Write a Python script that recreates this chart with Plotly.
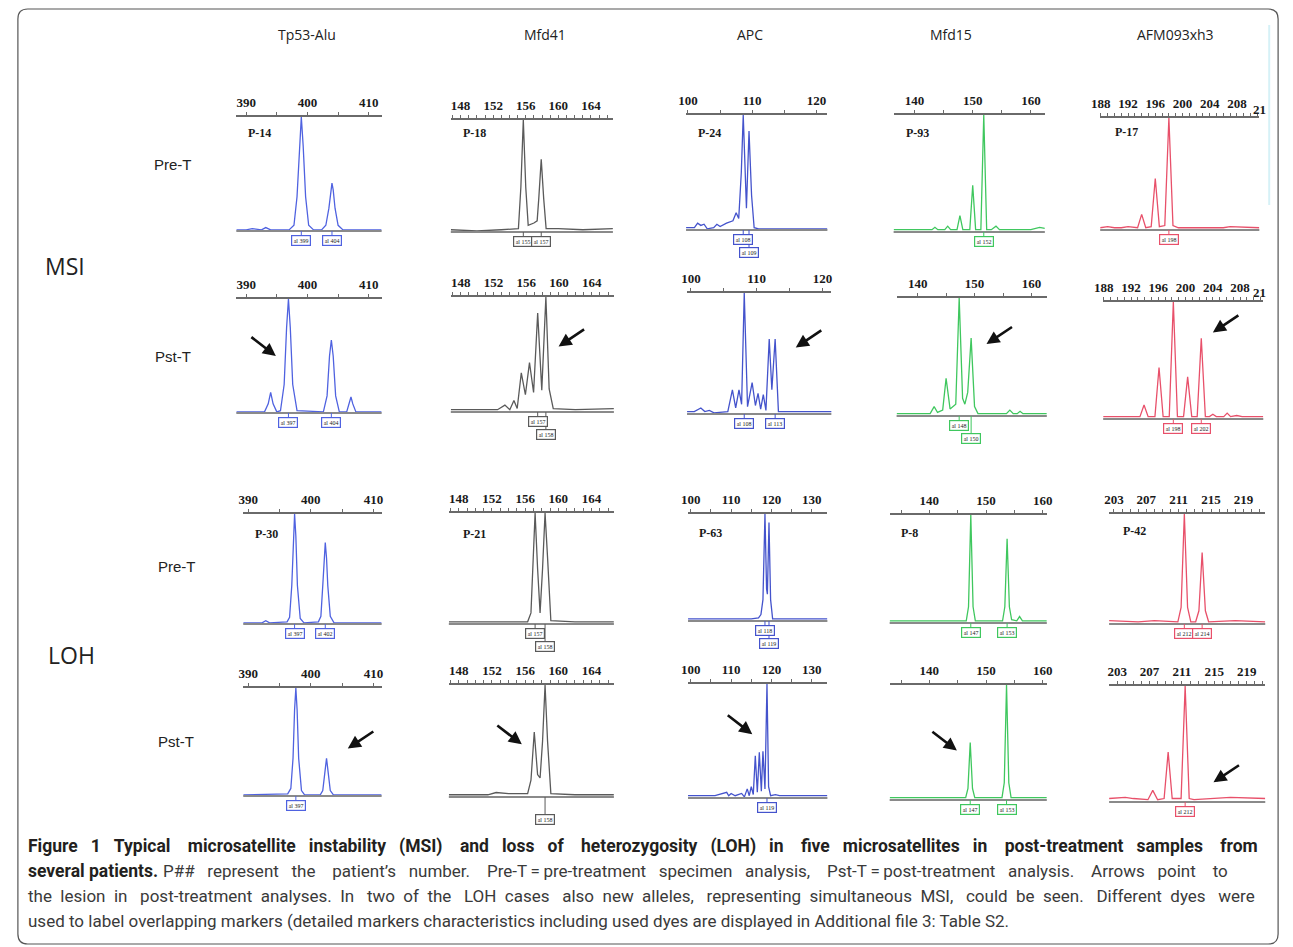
import plotly.graph_objects as go

W, H = 1293, 947

# ---------------- text content ----------------
columns = ["Tp53-Alu", "Mfd41", "APC", "Mfd15", "AFM093xh3"]
row_labels = ["Pre-T", "Pst-T", "Pre-T", "Pst-T"]
group_labels = ["MSI", "LOH"]
patients_msi = ["P-14", "P-18", "P-24", "P-93", "P-17"]
patients_loh = ["P-30", "P-21", "P-63", "P-8", "P-42"]

caption_bold_1 = ("Figure 1 Typical microsatellite instability (MSI) and loss of heterozygosity (LOH) "
                  "in five microsatellites in post-treatment samples from")
caption_bold_2 = "several patients."
caption_rest_2 = ("P## represent the patient\u2019s number. Pre-T\u2009=\u2009pre-treatment specimen analysis, "
                  "Pst-T\u2009=\u2009post-treatment analysis. Arrows point to")
caption_3 = ("the lesion in post-treatment analyses. In two of the LOH cases also new alleles, "
             "representing simultaneous MSI, could be seen. Different dyes were")
caption_4 = ("used to label overlapping markers (detailed markers characteristics including used dyes "
             "are displayed in Additional file 3: Table S2.")

# ---------------- tick values / labels (fragment size, bp) ----------------
tp53_ticks = [390, 395, 400, 405, 410]
tp53_ticktext = ["390", "", "400", "", "410"]
mfd41_ticks = list(range(147, 167))
mfd41_ticktext = [str(v) if v in (148, 152, 156, 160, 164) else "" for v in mfd41_ticks]
apc_msi_ticks = [100, 105, 110, 115, 120]
apc_msi_ticktext = ["100", "", "110", "", "120"]
apc_loh_ticks = [100, 105, 110, 115, 120, 125, 130]
apc_loh_ticktext = ["100", "", "110", "", "120", "", "130"]
mfd15_msi_ticks = [140, 145, 150, 155, 160]
mfd15_msi_ticktext = ["140", "", "150", "", "160"]
mfd15_loh_ticks = [135, 140, 145, 150, 155, 160]
mfd15_loh_ticktext = ["", "140", "", "150", "", "160"]
afm_msi_ticks = list(range(188, 212))
afm_msi_ticktext = [str(v) if v in (188, 192, 196, 200, 204, 208) else "" for v in afm_msi_ticks]
afm_loh_ticks = list(range(203, 222))
afm_loh_ticktext = [str(v) if v in (203, 207, 211, 215, 219) else "" for v in afm_loh_ticks]

# ---------------- electropherogram traces (size bp, relative height) ----------------
# Row 1: MSI pre-treatment
tp53_msi_pre_x = [388.4, 390, 391, 392.5, 393.2, 394, 397.0, 397.8, 398.3, 398.7, 399, 399.3, 399.7, 400.2,
                  401.0, 402.3, 403.0, 403.5, 403.8, 404, 404.2, 404.5, 405.0, 405.8, 412.1]
tp53_msi_pre_y = [0.01, 0.01, 0.02, 0.01, 0.03, 0.01, 0.01, 0.05, 0.3, 0.75, 1.0, 0.75, 0.3, 0.05,
                  0.01, 0.01, 0.05, 0.2, 0.36, 0.42, 0.36, 0.2, 0.05, 0.01, 0.01]
mfd41_msi_pre_x = [146.8, 150, 153, 155.1, 155.4, 155.7, 156.0, 156.3, 157.0, 157.4, 157.6, 157.9, 158.2,
                   158.5, 160, 163, 166.7]
mfd41_msi_pre_y = [0.02, 0.01, 0.02, 0.03, 0.4, 1.0, 0.4, 0.06, 0.08, 0.1, 0.3, 0.65, 0.3,
                   0.03, 0.03, 0.02, 0.03]
apc_msi_pre_x = [99.7, 101, 101.5, 102, 102.5, 103, 104, 104.5, 105, 106, 107, 107.5, 107.9, 108.3, 108.6,
                 108.9, 109.1, 109.5, 109.9, 110.3, 111, 121.7]
apc_msi_pre_y = [0.02, 0.02, 0.06, 0.04, 0.05, 0.01, 0.02, 0.05, 0.03, 0.06, 0.08, 0.15, 0.1, 0.5, 1.0,
                 0.4, 0.19, 0.86, 0.3, 0.02, 0.01, 0.01]
mfd15_msi_pre_x = [136.4, 143, 143.5, 144, 145.2, 145.7, 146.2, 147.3, 147.8, 148.3, 149.5, 150.0, 150.5,
                   151.4, 151.9, 152.4, 153.2, 154, 154.6, 160, 161.5, 162.4]
mfd15_msi_pre_y = [0.02, 0.02, 0.04, 0.02, 0.02, 0.05, 0.02, 0.02, 0.14, 0.02, 0.02, 0.4, 0.02,
                   0.02, 1.0, 0.02, 0.02, 0.05, 0.02, 0.02, 0.04, 0.03]
afm_msi_pre_x = [187.9, 189, 190, 191, 192, 193.4, 194.0, 194.6, 195.4, 196.0, 196.6, 197.4, 198.0, 198.6,
                 199.4, 202, 206, 207, 211.3]
afm_msi_pre_y = [0.02, 0.03, 0.02, 0.02, 0.03, 0.02, 0.14, 0.02, 0.03, 0.46, 0.03, 0.04, 1.0, 0.04,
                 0.02, 0.02, 0.02, 0.03, 0.02]

# Row 2: MSI post-treatment
tp53_msi_pst_x = [388.4, 393.0, 393.6, 394, 394.4, 395.0, 395.6, 396.2, 396.6, 396.9, 397.2, 397.6, 398.3,
                  402.6, 403.2, 403.6, 403.9, 404.2, 404.6, 405.2, 406.4, 406.8, 407.1, 407.4, 407.9, 412.1]
tp53_msi_pst_y = [0.01, 0.01, 0.08, 0.18, 0.08, 0.01, 0.02, 0.25, 0.75, 1.0, 0.75, 0.25, 0.02,
                  0.01, 0.15, 0.5, 0.64, 0.5, 0.15, 0.01, 0.01, 0.08, 0.14, 0.08, 0.01, 0.01]
mfd41_msi_pst_x = [146.8, 150, 152.5, 153.4, 154.0, 154.5, 154.9, 155.4, 155.9, 156.4, 156.9, 157.4, 157.9,
                   158.4, 158.8, 159.3, 162, 166.7]
mfd41_msi_pst_y = [0.02, 0.02, 0.02, 0.06, 0.02, 0.1, 0.03, 0.34, 0.15, 0.43, 0.17, 0.86, 0.19,
                   1.0, 0.2, 0.03, 0.02, 0.03]
apc_msi_pst_x = [99.4, 100.5, 101.5, 102.1, 102.8, 103.5, 105.6, 106.3, 106.8, 107.3, 107.7, 108.1, 108.6,
                 109.3, 109.8, 110.2, 110.6, 111.0, 111.4, 111.9, 112.3, 112.8, 113.3, 121.5]
apc_msi_pst_y = [0.02, 0.02, 0.05, 0.02, 0.03, 0.01, 0.02, 0.2, 0.05, 0.2, 0.08, 1.0, 0.06,
                 0.26, 0.07, 0.17, 0.04, 0.16, 0.03, 0.62, 0.2, 0.62, 0.02, 0.02]
mfd15_msi_pst_x = [136.3, 142.2, 142.9, 143.5, 144.4, 145.0, 145.7, 146.7, 147.3, 147.9, 148.3, 148.8, 149.4,
                   150.0, 150.6, 155.6, 156.2, 156.8, 157.5, 158.0, 158.5, 162.7]
mfd15_msi_pst_y = [0.02, 0.02, 0.08, 0.03, 0.05, 0.32, 0.06, 0.1, 1.0, 0.15, 0.1, 0.2, 0.66,
                   0.08, 0.02, 0.02, 0.05, 0.02, 0.02, 0.04, 0.02, 0.02]
afm_msi_pst_x = [187.9, 193.3, 193.9, 194.5, 195.5, 196.1, 196.7, 197.6, 198.2, 198.8, 199.7, 200.3, 200.9,
                 201.7, 202.3, 202.9, 203.5, 204.0, 204.5, 205.6, 206.1, 206.6, 207.5, 208.3, 211.4]
afm_msi_pst_y = [0.02, 0.02, 0.12, 0.02, 0.02, 0.44, 0.02, 0.02, 1.0, 0.02, 0.02, 0.36, 0.02,
                 0.02, 0.69, 0.02, 0.02, 0.04, 0.02, 0.02, 0.05, 0.02, 0.03, 0.02, 0.02]

# Row 3: LOH pre-treatment
tp53_loh_pre_x = [389.2, 392.2, 392.8, 393.4, 396.2, 396.6, 396.95, 397.2, 397.4, 397.6, 397.85, 398.3, 398.9,
                  401.2, 401.6, 401.9, 402.1, 402.3, 402.5, 402.7, 403.1, 403.7, 411.3]
tp53_loh_pre_y = [0.01, 0.01, 0.03, 0.01, 0.02, 0.06, 0.35, 0.8, 1.0, 0.8, 0.35, 0.05, 0.01,
                  0.02, 0.07, 0.35, 0.6, 0.74, 0.6, 0.35, 0.07, 0.01, 0.01]
mfd41_loh_pre_x = [146.8, 150, 153, 156.3, 156.7, 157.0, 157.2, 157.5, 157.8, 158.1, 158.4, 158.7, 159.1,
                   162, 166.7]
mfd41_loh_pre_y = [0.02, 0.02, 0.02, 0.02, 0.1, 0.6, 1.0, 0.5, 0.1, 0.5, 1.0, 0.6, 0.03, 0.02, 0.02]
apc_loh_pre_x = [99.3, 110, 115, 116.8, 117.4, 117.9, 118.4, 118.8, 119.0, 119.4, 119.8, 120.3, 125, 133.9]
apc_loh_pre_y = [0.02, 0.02, 0.02, 0.03, 0.06, 0.2, 1.0, 0.3, 0.25, 0.92, 0.2, 0.02, 0.02, 0.02]
mfd15_loh_pre_x = [133.0, 146.5, 146.9, 147.3, 147.7, 148.1, 152.9, 153.3, 153.7, 154.1, 154.5, 155.4,
                   155.9, 156.4, 160.7]
mfd15_loh_pre_y = [0.02, 0.02, 0.15, 1.0, 0.15, 0.02, 0.02, 0.15, 0.78, 0.15, 0.03, 0.02, 0.06, 0.02, 0.02]
afm_loh_pre_x = [202.4, 206, 208, 210.9, 211.3, 211.7, 212.1, 212.5, 213.1, 213.5, 213.9, 214.3, 214.7,
                 218, 221.7]
afm_loh_pre_y = [0.03, 0.02, 0.03, 0.02, 0.15, 1.0, 0.15, 0.02, 0.02, 0.12, 0.65, 0.12, 0.02, 0.03, 0.02]

# Row 4: LOH post-treatment
tp53_loh_pst_x = [389.2, 396.3, 396.8, 397.15, 397.4, 397.6, 397.8, 398.05, 398.5, 399.0,
                  401.5, 401.9, 402.2, 402.5, 402.8, 403.1, 403.6, 411.3]
tp53_loh_pst_y = [0.01, 0.02, 0.07, 0.35, 0.8, 1.0, 0.8, 0.35, 0.05, 0.01,
                  0.01, 0.05, 0.2, 0.35, 0.2, 0.05, 0.01, 0.01]
mfd41_loh_pst_x = [146.8, 151.5, 152.5, 154, 156.3, 156.7, 157.1, 157.5, 157.8, 158.1, 158.4, 158.7, 159.1,
                   162, 166.7]
mfd41_loh_pst_y = [0.02, 0.02, 0.04, 0.03, 0.03, 0.15, 0.58, 0.2, 0.17, 0.5, 1.0, 0.5, 0.03, 0.02, 0.02]
apc_loh_pst_x = [99.3, 106, 108.9, 109.4, 110.0, 111, 112.6, 113.3, 114.0, 114.5, 115.0, 115.5, 116.0,
                 116.5, 117.0, 117.5, 117.9, 118.4, 118.9, 119.3, 119.8, 121, 122, 133.9]
apc_loh_pst_y = [0.02, 0.02, 0.05, 0.02, 0.04, 0.02, 0.04, 0.01, 0.08, 0.02, 0.1, 0.03, 0.37,
                 0.05, 0.4, 0.06, 0.41, 0.08, 1.0, 0.1, 0.02, 0.03, 0.02, 0.02]
mfd15_loh_pst_x = [133.0, 146.4, 146.8, 147.2, 147.6, 148.0, 152.8, 153.2, 153.6, 154.0, 154.4, 160.7]
mfd15_loh_pst_y = [0.02, 0.02, 0.1, 0.5, 0.1, 0.02, 0.02, 0.15, 1.0, 0.15, 0.02, 0.02]
afm_loh_pst_x = [202.0, 204, 205, 206.8, 207.4, 208.0, 208.8, 209.3, 209.8, 210.9, 211.4, 211.9, 212.5,
                 215, 217, 221.3]
afm_loh_pst_y = [0.03, 0.04, 0.03, 0.02, 0.1, 0.02, 0.03, 0.43, 0.03, 0.03, 1.0, 0.03, 0.02, 0.03, 0.04, 0.03]

# allele call boxes: (text, size, level)
tp53_msi_pre_calls = [("al 399", 399.0, 1), ("al 404", 404.0, 1)]
mfd41_msi_pre_calls = [("al 155", 155.7, 1), ("al 157", 157.9, 1)]
apc_msi_pre_calls = [("al 108", 108.6, 1), ("al 109", 109.5, 2)]
mfd15_msi_pre_calls = [("al 152", 151.9, 1)]
afm_msi_pre_calls = [("al 198", 198.0, 1)]
tp53_msi_pst_calls = [("al 397", 396.9, 1), ("al 404", 403.9, 1)]
mfd41_msi_pst_calls = [("al 157", 157.4, 1), ("al 158", 158.4, 2)]
apc_msi_pst_calls = [("al 108", 108.1, 1), ("al 113", 112.8, 1)]
mfd15_msi_pst_calls = [("al 148", 147.3, 1), ("al 150", 149.4, 2)]
afm_msi_pst_calls = [("al 198", 198.2, 1), ("al 202", 202.3, 1)]
tp53_loh_pre_calls = [("al 397", 397.4, 1), ("al 402", 402.3, 1)]
mfd41_loh_pre_calls = [("al 157", 157.2, 1), ("al 158", 158.4, 2)]
apc_loh_pre_calls = [("al 118", 118.4, 1), ("al 119", 119.4, 2)]
mfd15_loh_pre_calls = [("al 147", 147.3, 1), ("al 153", 153.7, 1)]
afm_loh_pre_calls = [("al 212", 211.7, 1), ("al 214", 213.9, 1)]
tp53_loh_pst_calls = [("al 397", 397.6, 1)]
mfd41_loh_pst_calls = [("al 158", 158.4, 2)]
apc_loh_pst_calls = [("al 119", 118.9, 1)]
mfd15_loh_pst_calls = [("al 147", 147.2, 1), ("al 153", 153.6, 1)]
afm_loh_pst_calls = [("al 212", 211.4, 1)]

# arrow heads pointing at lesions (size, relative height)
msi_pst_arrows = [(394.85, 0.50), (159.95, 0.57), (115.94, 0.55), (152.1, 0.61), (204.0, 0.74)]
loh_pst_arrows = [(405.9, 0.44), (155.6, 0.47), (115.25, 0.56), (144.85, 0.43), (214.9, 0.17)]

# ---------------- styling / geometry ----------------
col_colors = ["#4f62e0", "#5a5a5a", "#4453cc", "#3fc75e", "#e8506a"]
AX = "#6a6a6a"
SERIF = "Liberation Serif"

# per panel: pixel box (x0, x1, y_axis, y_base) and x range
geom = [
    [(230, 377, 117, 231, 388.4, 412.1), (447, 611, 120, 232, 146.8, 166.7), (685, 828, 115, 230, 99.7, 121.7),
     (895, 1048, 115, 232, 136.4, 162.4), (1104, 1265, 118, 230, 187.9, 211.3)],
    [(230, 377, 299, 413, 388.4, 412.1), (447, 612, 297, 412, 146.8, 166.7), (686, 832, 293, 414, 99.4, 121.35),
     (898, 1050, 298, 416, 136.3, 162.7), (1107, 1269, 302, 419, 187.9, 211.4)],
    [(237, 377, 514, 624, 389.2, 411.3), (445, 612, 513, 624, 146.8, 166.7), (687, 828, 514, 621, 99.3, 133.9),
     (891, 1050, 515, 623, 133.0, 160.7), (1113, 1271, 514, 624, 202.4, 221.7)],
    [(237, 377, 688, 796, 389.2, 411.3), (445, 612, 685, 797, 146.8, 166.7), (687, 828, 684, 798, 99.3, 133.9),
     (891, 1050, 685, 800, 133.0, 160.7), (1113, 1271, 686, 802, 202.0, 221.3)],
]

traces_xy = [
    [(tp53_msi_pre_x, tp53_msi_pre_y), (mfd41_msi_pre_x, mfd41_msi_pre_y), (apc_msi_pre_x, apc_msi_pre_y),
     (mfd15_msi_pre_x, mfd15_msi_pre_y), (afm_msi_pre_x, afm_msi_pre_y)],
    [(tp53_msi_pst_x, tp53_msi_pst_y), (mfd41_msi_pst_x, mfd41_msi_pst_y), (apc_msi_pst_x, apc_msi_pst_y),
     (mfd15_msi_pst_x, mfd15_msi_pst_y), (afm_msi_pst_x, afm_msi_pst_y)],
    [(tp53_loh_pre_x, tp53_loh_pre_y), (mfd41_loh_pre_x, mfd41_loh_pre_y), (apc_loh_pre_x, apc_loh_pre_y),
     (mfd15_loh_pre_x, mfd15_loh_pre_y), (afm_loh_pre_x, afm_loh_pre_y)],
    [(tp53_loh_pst_x, tp53_loh_pst_y), (mfd41_loh_pst_x, mfd41_loh_pst_y), (apc_loh_pst_x, apc_loh_pst_y),
     (mfd15_loh_pst_x, mfd15_loh_pst_y), (afm_loh_pst_x, afm_loh_pst_y)],
]
calls = [
    [tp53_msi_pre_calls, mfd41_msi_pre_calls, apc_msi_pre_calls, mfd15_msi_pre_calls, afm_msi_pre_calls],
    [tp53_msi_pst_calls, mfd41_msi_pst_calls, apc_msi_pst_calls, mfd15_msi_pst_calls, afm_msi_pst_calls],
    [tp53_loh_pre_calls, mfd41_loh_pre_calls, apc_loh_pre_calls, mfd15_loh_pre_calls, afm_loh_pre_calls],
    [tp53_loh_pst_calls, mfd41_loh_pst_calls, apc_loh_pst_calls, mfd15_loh_pst_calls, afm_loh_pst_calls],
]
ticks_msi = [(tp53_ticks, tp53_ticktext), (mfd41_ticks, mfd41_ticktext), (apc_msi_ticks, apc_msi_ticktext),
             (mfd15_msi_ticks, mfd15_msi_ticktext), (afm_msi_ticks, afm_msi_ticktext)]
ticks_loh = [(tp53_ticks, tp53_ticktext), (mfd41_ticks, mfd41_ticktext), (apc_loh_ticks, apc_loh_ticktext),
             (mfd15_loh_ticks, mfd15_loh_ticktext), (afm_loh_ticks, afm_loh_ticktext)]
arrows = [None, msi_pst_arrows, None, loh_pst_arrows]


def px(x):
    return x / W


def py(y):
    return 1 - y / H


def justify(text, n_extra):
    """Widen word gaps with n_extra non-breaking spaces spread evenly (mimics justified text)."""
    words = text.split(" ")
    gaps = len(words) - 1
    out = words[0]
    for g in range(gaps):
        k = (n_extra * (g + 1)) // gaps - (n_extra * g) // gaps
        out += " " + "\u00a0" * k + words[g + 1]
    return out


fig = go.Figure()
layout = {}
shapes = []
annotations = []

for r in range(4):
    for c in range(5):
        i = r * 5 + c + 1
        x0, x1, ytop, ybase, xmin, xmax = geom[r][c]
        col = col_colors[c]
        tv, tt = (ticks_msi if r < 2 else ticks_loh)[c]
        xname = "xaxis" if i == 1 else f"xaxis{i}"
        yname = "yaxis" if i == 1 else f"yaxis{i}"
        xr = "x" if i == 1 else f"x{i}"
        yr = "y" if i == 1 else f"y{i}"
        layout[xname] = dict(domain=[px(x0), px(x1)], range=[xmin, xmax], anchor=yr, side="top",
                             showline=True, linecolor=AX, linewidth=1.5, ticks="outside", ticklen=3,
                             tickwidth=1, tickcolor=AX, tickvals=tv, ticktext=tt, tickangle=0,
                             tickfont=dict(family=SERIF, size=13, color="#1a1a1a", weight="bold"),
                             showgrid=False, zeroline=False, fixedrange=True)
        layout[yname] = dict(domain=[py(ybase), py(ytop)], range=[0, 1.0], anchor=xr, visible=False,
                             fixedrange=True)
        tx, ty = traces_xy[r][c]
        fig.add_trace(go.Scatter(x=tx, y=ty, xaxis=xr, yaxis=yr, mode="lines",
                                 line=dict(color=col, width=1.3), hoverinfo="skip", showlegend=False))
        # baseline
        shapes.append(dict(type="line", xref=f"{xr} domain", yref="paper", x0=0, x1=1,
                           y0=py(ybase), y1=py(ybase), line=dict(color="#8a8a8a", width=2)))
        # allele call boxes
        for text, xv, lvl in calls[r][c]:
            top = ybase + (4 if lvl == 1 else 17)
            shapes.append(dict(type="line", xref=xr, yref="paper", x0=xv, x1=xv,
                               y0=py(ybase), y1=py(top), line=dict(color=col, width=1)))
            annotations.append(dict(x=xv, y=py(top), xref=xr, yref="paper", text=text, showarrow=False,
                                    yanchor="top", xanchor="center",
                                    font=dict(family=SERIF, size=6, color="#222"),
                                    bordercolor=col, borderwidth=1.2, borderpad=1.5, bgcolor="white"))
        # lesion arrows
        if arrows[r] is not None:
            hx, hy = arrows[r][c]
            axo, ayo = (-26, -20) if (r == 1 and c == 0) or (r == 3 and c in (1, 2, 3)) else (27, -18)
            annotations.append(dict(x=hx, y=hy, xref=xr, yref=yr, ax=axo, ay=ayo, text="", showarrow=True,
                                    arrowhead=2, arrowsize=1.0, arrowwidth=2.6, arrowcolor="#111"))

# patient labels
pat_pos_msi = [(240, 133), (457, 133), (695, 133), (905, 133), (1117, 132)]
pat_pos_loh = [(247, 534), (457, 534), (696, 533), (900, 533), (1125, 531)]
for names, poss in ((patients_msi, pat_pos_msi), (patients_loh, pat_pos_loh)):
    for name, (x, y) in zip(names, poss):
        annotations.append(dict(x=px(x), y=py(y), xref="paper", yref="paper", text=name, showarrow=False,
                                xanchor="left", yanchor="middle",
                                font=dict(family=SERIF, size=12, color="#1a1a1a", weight="bold")))

# partially visible "212" tick label at the clipped right edge
for y in (110, 293):
    annotations.append(dict(x=px(1257), y=py(y), xref="paper", yref="paper", text="21", showarrow=False,
                            xanchor="left", yanchor="middle",
                            font=dict(family=SERIF, size=13, color="#1a1a1a", weight="bold")))

# column titles
for name, x in zip(columns, [302, 542, 750, 953, 1180]):
    annotations.append(dict(x=px(x), y=py(34), xref="paper", yref="paper", text=name, showarrow=False,
                            xanchor="center", yanchor="middle",
                            font=dict(family="Open Sans", size=14, color="#222")))
# row labels
for name, (x, y) in zip(row_labels, [(166, 164), (166, 356), (170, 566), (169, 741)]):
    annotations.append(dict(x=px(x), y=py(y), xref="paper", yref="paper", text=name, showarrow=False,
                            xanchor="center", yanchor="middle",
                            font=dict(family="Liberation Sans", size=15, color="#222")))
for name, (x, y) in zip(group_labels, [(57, 266), (63, 655)]):
    annotations.append(dict(x=px(x), y=py(y), xref="paper", yref="paper", text=name, showarrow=False,
                            xanchor="center", yanchor="middle",
                            font=dict(family="Open Sans", size=23, color="#222")))

# caption: justified lines (last line ragged)
bold_font = dict(family="Roboto", size=17.5, color="#231f20", weight="bold")
body_font = dict(family="Roboto", size=17, color="#3a3a3a")
cap_items = [
    (17, 846, justify(caption_bold_1, 40), bold_font),
    (17, 871, caption_bold_2, bold_font),
    (154, 871, justify(caption_rest_2, 29), body_font),
    (17, 896, justify(caption_3, 30), body_font),
    (17, 921, caption_4, body_font),
]
for x, y, text, font in cap_items:
    annotations.append(dict(x=px(x), y=py(y), xref="paper", yref="paper", text=text,
                            showarrow=False, xanchor="left", yanchor="middle", font=font))

# faint scan artefact line at the right edge of the top-right panel
shapes.append(dict(type="line", xref="paper", yref="paper", x0=px(1275), x1=px(1275), y0=py(205), y1=py(25),
                   line=dict(color="#d6f1f7", width=2)))

# rounded outer frame
L, T, R, B, rad = px(9), py(9), px(1284), py(944), 10
rx, ry = rad / W, rad / H
frame = (f"M {L + rx} {T} L {R - rx} {T} Q {R} {T} {R} {T - ry} L {R} {B + ry} "
         f"Q {R} {B} {R - rx} {B} L {L + rx} {B} Q {L} {B} {L} {B + ry} L {L} {T - ry} Q {L} {T} {L + rx} {T} Z")
shapes.append(dict(type="path", xref="paper", yref="paper", path=frame, line=dict(color="#555", width=1.2)))

fig.update_layout(width=W, height=H, margin=dict(l=0, r=0, t=0, b=0), paper_bgcolor="white",
                  plot_bgcolor="rgba(0,0,0,0)", showlegend=False, shapes=shapes, annotations=annotations,
                  **layout)
fig.write_html("out.html", config={"displayModeBar": False},
               post_script="document.body.style.margin='0';document.body.style.overflow='hidden';")
